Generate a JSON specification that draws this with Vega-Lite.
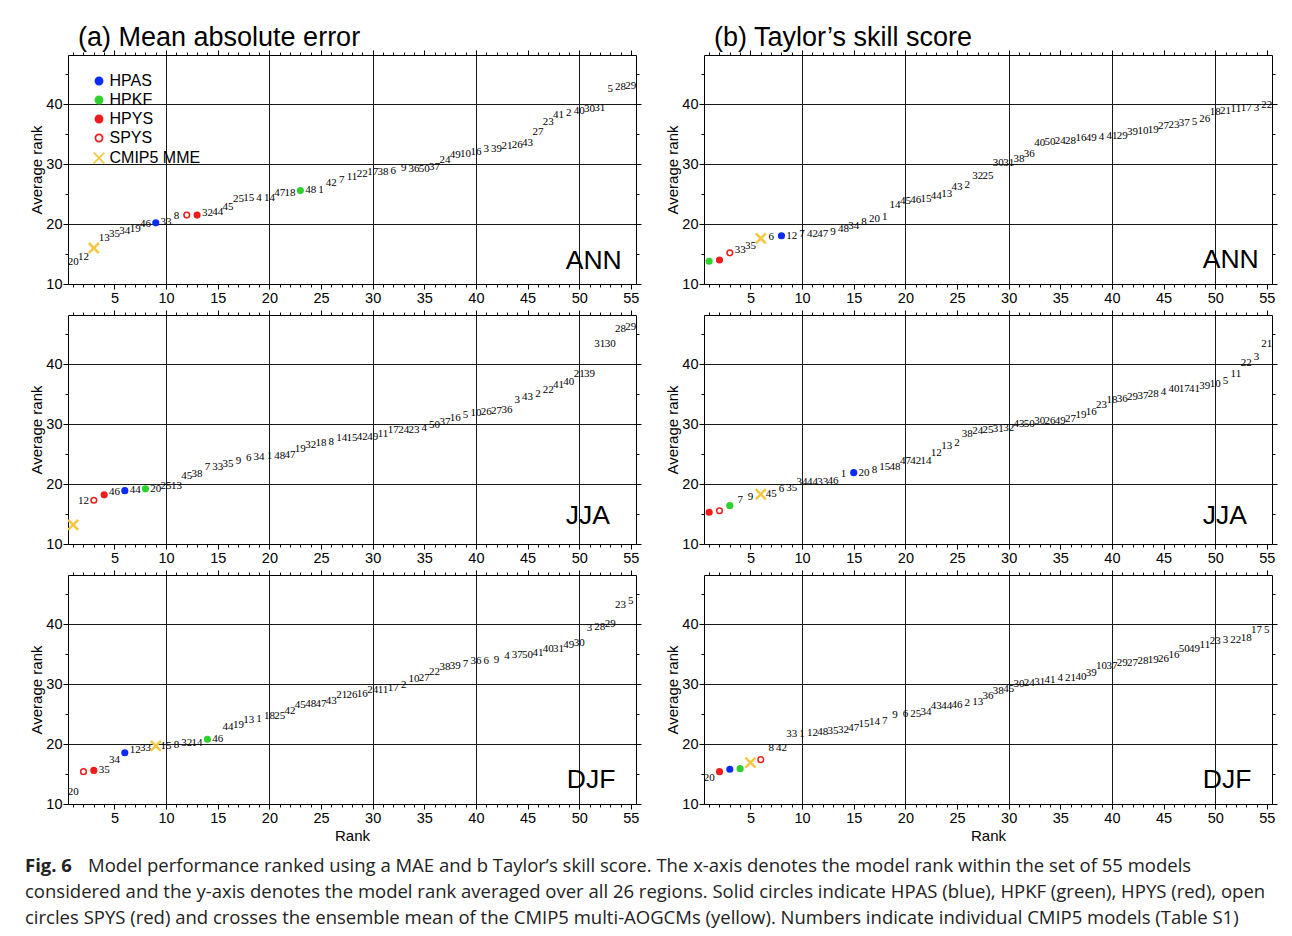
{
"$schema": "https://vega.github.io/schema/vega-lite/v6.json",
"background": "white",
"padding": {"left": 25, "top": 23, "right": 8, "bottom": 6},
"config": {
 "font": "Liberation Sans",
 "view": {"stroke": "black", "strokeWidth": 1},
 "axis": {"domain": false, "labelFont": "Liberation Sans", "labelFontSize": 14.5, "labelColor": "black", "tickColor": "black", "tickWidth": 1, "gridColor": "#1a1a1a", "gridWidth": 1, "titleFont": "Liberation Sans", "titleFontSize": 15, "titleFontWeight": "normal", "titleColor": "black", "labelOverlap": false, "labelFlush": false},
 "title": {"font": "Liberation Sans", "fontSize": 27, "fontWeight": "normal", "color": "black", "anchor": "start", "frame": "group", "baseline": "alphabetic", "dx": 10, "offset": -2}
},
"datasets": {
"aANN": [
{"rank":1,"avg":13.7,"label":"20"},{"rank":2,"avg":14.5,"label":"12"},{"rank":3,"avg":16.0,"group":"CMIP5 MME"},{"rank":4,"avg":17.7,"label":"13"},{"rank":5,"avg":18.3,"label":"35"},{"rank":6,"avg":18.9,"label":"34"},{"rank":7,"avg":19.2,"label":"19"},{"rank":8,"avg":20.0,"label":"46"},{"rank":9,"avg":20.2,"group":"HPAS"},{"rank":10,"avg":20.3,"label":"33"},{"rank":11,"avg":21.3,"label":"8"},{"rank":12,"avg":21.5,"group":"SPYS"},{"rank":13,"avg":21.5,"group":"HPYS"},{"rank":14,"avg":21.8,"label":"32"},{"rank":15,"avg":22.05,"label":"44"},{"rank":16,"avg":22.9,"label":"45"},{"rank":17,"avg":24.2,"label":"25"},{"rank":18,"avg":24.3,"label":"15"},{"rank":19,"avg":24.3,"label":"4"},{"rank":20,"avg":24.4,"label":"14"},{"rank":21,"avg":25.1,"label":"47"},{"rank":22,"avg":25.2,"label":"18"},{"rank":23,"avg":25.6,"group":"HPKF"},{"rank":24,"avg":25.6,"label":"48"},{"rank":25,"avg":25.7,"label":"1"},{"rank":26,"avg":26.9,"label":"42"},{"rank":27,"avg":27.4,"label":"7"},{"rank":28,"avg":27.9,"label":"11"},{"rank":29,"avg":28.3,"label":"22"},{"rank":30,"avg":28.6,"label":"17"},{"rank":31,"avg":28.6,"label":"38"},{"rank":32,"avg":28.8,"label":"6"},{"rank":33,"avg":29.3,"label":"9"},{"rank":34,"avg":29.2,"label":"36"},{"rank":35,"avg":29.2,"label":"50"},{"rank":36,"avg":29.55,"label":"37"},{"rank":37,"avg":30.7,"label":"24"},{"rank":38,"avg":31.5,"label":"49"},{"rank":39,"avg":31.7,"label":"10"},{"rank":40,"avg":32.05,"label":"16"},{"rank":41,"avg":32.6,"label":"3"},{"rank":42,"avg":32.5,"label":"39"},{"rank":43,"avg":33.05,"label":"21"},{"rank":44,"avg":33.2,"label":"26"},{"rank":45,"avg":33.6,"label":"43"},{"rank":46,"avg":35.3,"label":"27"},{"rank":47,"avg":37.1,"label":"23"},{"rank":48,"avg":38.2,"label":"41"},{"rank":49,"avg":38.6,"label":"2"},{"rank":50,"avg":38.9,"label":"40"},{"rank":51,"avg":39.2,"label":"30"},{"rank":52,"avg":39.3,"label":"31"},{"rank":53,"avg":42.6,"label":"5"},{"rank":54,"avg":42.9,"label":"28"},{"rank":55,"avg":43.05,"label":"29"}
],
"aJJA": [
{"rank":1,"avg":13.2,"group":"CMIP5 MME"},{"rank":2,"avg":17.1,"label":"12"},{"rank":3,"avg":17.3,"group":"SPYS"},{"rank":4,"avg":18.2,"group":"HPYS"},{"rank":5,"avg":18.6,"label":"46"},{"rank":6,"avg":18.9,"group":"HPAS"},{"rank":7,"avg":19.05,"label":"44"},{"rank":8,"avg":19.2,"group":"HPKF"},{"rank":9,"avg":19.1,"label":"20"},{"rank":10,"avg":19.6,"label":"25"},{"rank":11,"avg":19.6,"label":"13"},{"rank":12,"avg":21.4,"label":"45"},{"rank":13,"avg":21.7,"label":"38"},{"rank":14,"avg":22.8,"label":"7"},{"rank":15,"avg":22.8,"label":"33"},{"rank":16,"avg":23.4,"label":"35"},{"rank":17,"avg":23.9,"label":"9"},{"rank":18,"avg":24.3,"label":"6"},{"rank":19,"avg":24.55,"label":"34"},{"rank":20,"avg":24.7,"label":"1"},{"rank":21,"avg":24.7,"label":"48"},{"rank":22,"avg":24.8,"label":"47"},{"rank":23,"avg":25.9,"label":"19"},{"rank":24,"avg":26.5,"label":"32"},{"rank":25,"avg":26.9,"label":"18"},{"rank":26,"avg":27.05,"label":"8"},{"rank":27,"avg":27.6,"label":"14"},{"rank":28,"avg":27.6,"label":"15"},{"rank":29,"avg":27.8,"label":"42"},{"rank":30,"avg":27.9,"label":"49"},{"rank":31,"avg":28.3,"label":"11"},{"rank":32,"avg":29.1,"label":"17"},{"rank":33,"avg":29.0,"label":"24"},{"rank":34,"avg":29.1,"label":"23"},{"rank":35,"avg":29.4,"label":"4"},{"rank":36,"avg":29.8,"label":"50"},{"rank":37,"avg":30.4,"label":"37"},{"rank":38,"avg":31.1,"label":"16"},{"rank":39,"avg":31.55,"label":"5"},{"rank":40,"avg":31.8,"label":"10"},{"rank":41,"avg":32.05,"label":"26"},{"rank":42,"avg":32.2,"label":"27"},{"rank":43,"avg":32.4,"label":"36"},{"rank":44,"avg":34.0,"label":"3"},{"rank":45,"avg":34.55,"label":"43"},{"rank":46,"avg":35.1,"label":"2"},{"rank":47,"avg":35.7,"label":"22"},{"rank":48,"avg":36.5,"label":"41"},{"rank":49,"avg":37.1,"label":"40"},{"rank":50,"avg":38.4,"label":"21"},{"rank":51,"avg":38.4,"label":"39"},{"rank":52,"avg":43.3,"label":"31"},{"rank":53,"avg":43.3,"label":"30"},{"rank":54,"avg":45.8,"label":"28"},{"rank":55,"avg":46.2,"label":"29"}
],
"aDJF": [
{"rank":1,"avg":12.05,"label":"20"},{"rank":2,"avg":15.4,"group":"SPYS"},{"rank":3,"avg":15.6,"group":"HPYS"},{"rank":4,"avg":15.7,"label":"35"},{"rank":5,"avg":17.4,"label":"34"},{"rank":6,"avg":18.55,"group":"HPAS"},{"rank":7,"avg":19.0,"label":"12"},{"rank":8,"avg":19.3,"label":"33"},{"rank":9,"avg":19.7,"group":"CMIP5 MME"},{"rank":10,"avg":19.7,"label":"15"},{"rank":11,"avg":19.8,"label":"8"},{"rank":12,"avg":20.1,"label":"32"},{"rank":13,"avg":20.1,"label":"14"},{"rank":14,"avg":20.8,"group":"HPKF"},{"rank":15,"avg":20.8,"label":"46"},{"rank":16,"avg":22.9,"label":"44"},{"rank":17,"avg":23.2,"label":"19"},{"rank":18,"avg":24.0,"label":"13"},{"rank":19,"avg":24.2,"label":"1"},{"rank":20,"avg":24.7,"label":"18"},{"rank":21,"avg":24.6,"label":"25"},{"rank":22,"avg":25.5,"label":"42"},{"rank":23,"avg":26.5,"label":"45"},{"rank":24,"avg":26.7,"label":"48"},{"rank":25,"avg":26.7,"label":"47"},{"rank":26,"avg":27.2,"label":"43"},{"rank":27,"avg":28.2,"label":"21"},{"rank":28,"avg":28.2,"label":"26"},{"rank":29,"avg":28.4,"label":"16"},{"rank":30,"avg":29.0,"label":"24"},{"rank":31,"avg":29.0,"label":"11"},{"rank":32,"avg":29.4,"label":"17"},{"rank":33,"avg":29.8,"label":"2"},{"rank":34,"avg":30.9,"label":"10"},{"rank":35,"avg":31.05,"label":"27"},{"rank":36,"avg":32.05,"label":"22"},{"rank":37,"avg":32.8,"label":"38"},{"rank":38,"avg":33.0,"label":"39"},{"rank":39,"avg":33.3,"label":"7"},{"rank":40,"avg":33.8,"label":"36"},{"rank":41,"avg":33.8,"label":"6"},{"rank":42,"avg":34.0,"label":"9"},{"rank":43,"avg":34.7,"label":"4"},{"rank":44,"avg":34.8,"label":"37"},{"rank":45,"avg":34.9,"label":"50"},{"rank":46,"avg":35.2,"label":"41"},{"rank":47,"avg":35.9,"label":"40"},{"rank":48,"avg":35.9,"label":"31"},{"rank":49,"avg":36.5,"label":"49"},{"rank":50,"avg":36.8,"label":"30"},{"rank":51,"avg":39.4,"label":"3"},{"rank":52,"avg":39.55,"label":"28"},{"rank":53,"avg":40.0,"label":"29"},{"rank":54,"avg":43.2,"label":"23"},{"rank":55,"avg":43.8,"label":"5"}
],
"bANN": [
{"rank":1,"avg":13.8,"group":"HPKF"},{"rank":2,"avg":14.0,"group":"HPYS"},{"rank":3,"avg":15.2,"group":"SPYS"},{"rank":4,"avg":15.7,"label":"33"},{"rank":5,"avg":16.4,"label":"35"},{"rank":6,"avg":17.6,"group":"CMIP5 MME"},{"rank":7,"avg":17.8,"label":"6"},{"rank":8,"avg":18.05,"group":"HPAS"},{"rank":9,"avg":18.05,"label":"12"},{"rank":10,"avg":18.3,"label":"7"},{"rank":11,"avg":18.4,"label":"42"},{"rank":12,"avg":18.4,"label":"47"},{"rank":13,"avg":18.7,"label":"9"},{"rank":14,"avg":19.2,"label":"48"},{"rank":15,"avg":19.6,"label":"34"},{"rank":16,"avg":20.3,"label":"8"},{"rank":17,"avg":20.8,"label":"20"},{"rank":18,"avg":21.2,"label":"1"},{"rank":19,"avg":23.2,"label":"14"},{"rank":20,"avg":23.8,"label":"45"},{"rank":21,"avg":24.05,"label":"46"},{"rank":22,"avg":24.2,"label":"15"},{"rank":23,"avg":24.7,"label":"44"},{"rank":24,"avg":25.0,"label":"13"},{"rank":25,"avg":26.1,"label":"43"},{"rank":26,"avg":26.55,"label":"2"},{"rank":27,"avg":28.05,"label":"32"},{"rank":28,"avg":28.05,"label":"25"},{"rank":29,"avg":30.2,"label":"30"},{"rank":30,"avg":30.2,"label":"31"},{"rank":31,"avg":30.8,"label":"38"},{"rank":32,"avg":31.7,"label":"36"},{"rank":33,"avg":33.6,"label":"40"},{"rank":34,"avg":33.7,"label":"50"},{"rank":35,"avg":33.9,"label":"24"},{"rank":36,"avg":33.9,"label":"28"},{"rank":37,"avg":34.3,"label":"16"},{"rank":38,"avg":34.3,"label":"49"},{"rank":39,"avg":34.6,"label":"4"},{"rank":40,"avg":34.7,"label":"41"},{"rank":41,"avg":34.75,"label":"29"},{"rank":42,"avg":35.4,"label":"39"},{"rank":43,"avg":35.55,"label":"10"},{"rank":44,"avg":35.7,"label":"19"},{"rank":45,"avg":36.4,"label":"27"},{"rank":46,"avg":36.55,"label":"23"},{"rank":47,"avg":36.8,"label":"37"},{"rank":48,"avg":37.1,"label":"5"},{"rank":49,"avg":37.6,"label":"26"},{"rank":50,"avg":38.7,"label":"18"},{"rank":51,"avg":38.9,"label":"21"},{"rank":52,"avg":39.2,"label":"11"},{"rank":53,"avg":39.3,"label":"17"},{"rank":54,"avg":39.35,"label":"3"},{"rank":55,"avg":39.8,"label":"22"}
],
"bJJA": [
{"rank":1,"avg":15.3,"group":"HPYS"},{"rank":2,"avg":15.55,"group":"SPYS"},{"rank":3,"avg":16.4,"group":"HPKF"},{"rank":4,"avg":17.3,"label":"7"},{"rank":5,"avg":17.8,"label":"9"},{"rank":6,"avg":18.3,"group":"CMIP5 MME"},{"rank":7,"avg":18.4,"label":"45"},{"rank":8,"avg":19.2,"label":"6"},{"rank":9,"avg":19.3,"label":"35"},{"rank":10,"avg":20.3,"label":"34"},{"rank":11,"avg":20.4,"label":"44"},{"rank":12,"avg":20.4,"label":"33"},{"rank":13,"avg":20.55,"label":"46"},{"rank":14,"avg":21.7,"label":"1"},{"rank":15,"avg":21.9,"group":"HPAS"},{"rank":16,"avg":21.9,"label":"20"},{"rank":17,"avg":22.3,"label":"8"},{"rank":18,"avg":22.8,"label":"15"},{"rank":19,"avg":22.85,"label":"48"},{"rank":20,"avg":23.8,"label":"47"},{"rank":21,"avg":23.8,"label":"42"},{"rank":22,"avg":23.9,"label":"14"},{"rank":23,"avg":25.2,"label":"12"},{"rank":24,"avg":26.4,"label":"13"},{"rank":25,"avg":26.9,"label":"2"},{"rank":26,"avg":28.4,"label":"38"},{"rank":27,"avg":28.9,"label":"24"},{"rank":28,"avg":29.0,"label":"25"},{"rank":29,"avg":29.2,"label":"31"},{"rank":30,"avg":29.3,"label":"32"},{"rank":31,"avg":30.0,"label":"43"},{"rank":32,"avg":30.1,"label":"50"},{"rank":33,"avg":30.55,"label":"30"},{"rank":34,"avg":30.55,"label":"26"},{"rank":35,"avg":30.55,"label":"49"},{"rank":36,"avg":30.8,"label":"27"},{"rank":37,"avg":31.55,"label":"19"},{"rank":38,"avg":32.05,"label":"16"},{"rank":39,"avg":33.2,"label":"23"},{"rank":40,"avg":34.0,"label":"18"},{"rank":41,"avg":34.2,"label":"36"},{"rank":42,"avg":34.55,"label":"29"},{"rank":43,"avg":34.7,"label":"37"},{"rank":44,"avg":35.1,"label":"28"},{"rank":45,"avg":35.4,"label":"4"},{"rank":46,"avg":35.9,"label":"40"},{"rank":47,"avg":35.9,"label":"17"},{"rank":48,"avg":35.9,"label":"41"},{"rank":49,"avg":36.4,"label":"39"},{"rank":50,"avg":36.7,"label":"10"},{"rank":51,"avg":37.2,"label":"5"},{"rank":52,"avg":38.4,"label":"11"},{"rank":53,"avg":40.2,"label":"22"},{"rank":54,"avg":41.2,"label":"3"},{"rank":55,"avg":43.3,"label":"21"}
],
"bDJF": [
{"rank":1,"avg":14.3,"label":"20"},{"rank":2,"avg":15.4,"group":"HPYS"},{"rank":3,"avg":15.8,"group":"HPAS"},{"rank":4,"avg":15.9,"group":"HPKF"},{"rank":5,"avg":16.9,"group":"CMIP5 MME"},{"rank":6,"avg":17.4,"group":"SPYS"},{"rank":7,"avg":19.4,"label":"8"},{"rank":8,"avg":19.4,"label":"42"},{"rank":9,"avg":21.7,"label":"33"},{"rank":10,"avg":21.7,"label":"1"},{"rank":11,"avg":21.8,"label":"12"},{"rank":12,"avg":22.0,"label":"48"},{"rank":13,"avg":22.2,"label":"35"},{"rank":14,"avg":22.3,"label":"32"},{"rank":15,"avg":22.6,"label":"47"},{"rank":16,"avg":23.4,"label":"15"},{"rank":17,"avg":23.6,"label":"14"},{"rank":18,"avg":23.9,"label":"7"},{"rank":19,"avg":24.8,"label":"9"},{"rank":20,"avg":25.0,"label":"6"},{"rank":21,"avg":25.0,"label":"25"},{"rank":22,"avg":25.3,"label":"34"},{"rank":23,"avg":26.3,"label":"43"},{"rank":24,"avg":26.3,"label":"44"},{"rank":25,"avg":26.55,"label":"46"},{"rank":26,"avg":26.8,"label":"2"},{"rank":27,"avg":27.05,"label":"13"},{"rank":28,"avg":28.05,"label":"36"},{"rank":29,"avg":28.9,"label":"38"},{"rank":30,"avg":29.2,"label":"45"},{"rank":31,"avg":30.1,"label":"30"},{"rank":32,"avg":30.2,"label":"24"},{"rank":33,"avg":30.4,"label":"31"},{"rank":34,"avg":30.7,"label":"41"},{"rank":35,"avg":31.05,"label":"4"},{"rank":36,"avg":31.05,"label":"21"},{"rank":37,"avg":31.2,"label":"40"},{"rank":38,"avg":31.8,"label":"39"},{"rank":39,"avg":33.05,"label":"10"},{"rank":40,"avg":33.05,"label":"37"},{"rank":41,"avg":33.6,"label":"29"},{"rank":42,"avg":33.6,"label":"27"},{"rank":43,"avg":33.8,"label":"28"},{"rank":44,"avg":34.0,"label":"19"},{"rank":45,"avg":34.2,"label":"26"},{"rank":46,"avg":34.8,"label":"16"},{"rank":47,"avg":35.8,"label":"50"},{"rank":48,"avg":35.8,"label":"49"},{"rank":49,"avg":36.5,"label":"11"},{"rank":50,"avg":37.2,"label":"23"},{"rank":51,"avg":37.3,"label":"3"},{"rank":52,"avg":37.3,"label":"22"},{"rank":53,"avg":37.7,"label":"18"},{"rank":54,"avg":39.0,"label":"17"},{"rank":55,"avg":39.1,"label":"5"}
],
"caption": [
{"line":1,"text":"Model performance ranked using a MAE and b Taylor’s skill score. The x-axis denotes the model rank within the set of 55 models"},
{"line":2,"text":"considered and the y-axis denotes the model rank averaged over all 26 regions. Solid circles indicate HPAS (blue), HPKF (green), HPYS (red), open"},
{"line":3,"text":"circles SPYS (red) and crosses the ensemble mean of the CMIP5 multi-AOGCMs (yellow). Numbers indicate individual CMIP5 models (Table S1)"}
]
},
"vconcat": [
{
"columns": 2,
"spacing": {"row": 31, "column": 68},
"bounds": "flush",
"resolve": {"scale": {"fill": "independent", "stroke": "independent", "shape": "independent"}, "legend": {"fill": "independent", "stroke": "independent", "shape": "independent"}},
"concat": [
{
"width": 568, "height": 229,
"title": {"text": "(a) Mean absolute error"},
"data": {"name": "aANN"},
"resolve": {"axis": {"x": "independent", "y": "independent"}},
"layer": [
{"transform": [{"filter": "isValid(datum.label)"}],
 "mark": {"type": "text", "font": "Liberation Sans Narrow", "fontSize": 11, "align": "center", "baseline": "middle", "color": "black"},
 "encoding": {
  "x": {"field": "rank", "type": "quantitative", "scale": {"domain": [0.5, 55.5], "nice": false, "zero": false}, "axis": {"values": [1,2,3,4,5,6,7,8,9,10,11,12,13,14,15,16,17,18,19,20,21,22,23,24,25,26,27,28,29,30,31,32,33,34,35,36,37,38,39,40,41,42,43,44,45,46,47,48,49,50,51,52,53,54,55], "labelExpr": "datum.value % 5 === 0 ? datum.label : ''", "tickSize": {"condition": {"test": "datum.value % 5 === 0", "value": 5}, "value": 3}, "grid": true, "gridOpacity": {"condition": {"test": "datum.value % 10 === 0", "value": 1}, "value": 0}, "labelPadding": 2, "title": null}},
  "y": {"field": "avg", "type": "quantitative", "scale": {"domain": [10, 48.2], "nice": false, "zero": false}, "axis": {"values": [10,15,20,25,30,35,40,45], "labelExpr": "datum.value % 10 === 0 ? datum.label : ''", "tickSize": {"condition": {"test": "datum.value % 10 === 0", "value": 5}, "value": 3}, "grid": true, "gridOpacity": {"condition": {"test": "datum.value % 10 === 0 && datum.value > 10", "value": 1}, "value": 0}, "labelPadding": 1, "title": "Average rank", "titlePadding": 1}},
  "text": {"field": "label"}
 }},
{"transform": [{"filter": "isValid(datum.group) && datum.group !== 'CMIP5 MME'"}],
 "mark": {"type": "point", "size": 32, "strokeWidth": 1.5, "opacity": 1},
 "encoding": {
  "x": {"field": "rank", "type": "quantitative", "axis": null},
  "y": {"field": "avg", "type": "quantitative", "axis": null},
  "fill": {"field": "group", "type": "nominal", "scale": {"domain": ["HPAS","HPKF","HPYS","SPYS","CMIP5 MME"], "range": ["#0b2cf5","#2fd12f","#ee1c1c","#ffffff","transparent"]}, "legend": {"orient": "none", "legendX": 23, "legendY": 18, "title": null, "labelFontSize": 16, "labelFont": "Liberation Sans", "labelColor": "black", "symbolSize": 50, "symbolStrokeWidth": 1.8, "rowPadding": 3, "labelOffset": 2.5, "padding": 0}},
  "stroke": {"field": "group", "type": "nominal", "scale": {"domain": ["HPAS","HPKF","HPYS","SPYS","CMIP5 MME"], "range": ["#0b2cf5","#2fd12f","#ee1c1c","#ee1c1c","#f5c842"]}, "legend": {"orient": "none", "legendX": 23, "legendY": 18, "title": null, "labelFontSize": 16, "labelFont": "Liberation Sans", "labelColor": "black", "symbolSize": 50, "symbolStrokeWidth": 1.8, "rowPadding": 3, "labelOffset": 2.5, "padding": 0}},
  "shape": {"field": "group", "type": "nominal", "scale": {"domain": ["HPAS","HPKF","HPYS","SPYS","CMIP5 MME"], "range": ["circle","circle","circle","circle","M-1.5,-1.5L1.5,1.5M-1.5,1.5L1.5,-1.5"]}, "legend": {"orient": "none", "legendX": 23, "legendY": 18, "title": null, "labelFontSize": 16, "labelFont": "Liberation Sans", "labelColor": "black", "symbolSize": 50, "symbolStrokeWidth": 1.8, "rowPadding": 3, "labelOffset": 2.5, "padding": 0}}
 }},
{"transform": [{"filter": "datum.group === 'CMIP5 MME'"}],
 "mark": {"type": "point", "size": 45, "strokeWidth": 2.5, "opacity": 1},
 "encoding": {
  "x": {"field": "rank", "type": "quantitative", "axis": null},
  "y": {"field": "avg", "type": "quantitative", "axis": null},
  "fill": {"field": "group", "type": "nominal"},
  "stroke": {"field": "group", "type": "nominal"},
  "shape": {"field": "group", "type": "nominal"}
 }},
{"data": {"values": [{}]},
 "mark": {"type": "text", "font": "Liberation Sans", "fontSize": 26.5, "align": "left", "baseline": "alphabetic", "color": "black"},
 "encoding": {
  "x": {"datum": 48.7, "type": "quantitative", "axis": {"orient": "top", "values": [1,2,3,4,5,6,7,8,9,10,11,12,13,14,15,16,17,18,19,20,21,22,23,24,25,26,27,28,29,30,31,32,33,34,35,36,37,38,39,40,41,42,43,44,45,46,47,48,49,50,51,52,53,54,55], "labels": false, "tickSize": {"condition": {"test": "datum.value % 5 === 0", "value": 5}, "value": 3}, "grid": false, "title": null}},
  "y": {"datum": 12.5, "type": "quantitative", "axis": {"orient": "right", "values": [10,15,20,25,30,35,40,45], "labels": false, "tickSize": {"condition": {"test": "datum.value % 10 === 0", "value": 5}, "value": 3}, "grid": false, "title": null}},
  "text": {"value": "ANN"}
 }}
]
},
{
"width": 568, "height": 229,
"title": {"text": "(b) Taylor’s skill score"},
"data": {"name": "bANN"},
"resolve": {"axis": {"x": "independent", "y": "independent"}},
"layer": [
{"transform": [{"filter": "isValid(datum.label)"}],
 "mark": {"type": "text", "font": "Liberation Sans Narrow", "fontSize": 11, "align": "center", "baseline": "middle", "color": "black"},
 "encoding": {
  "x": {"field": "rank", "type": "quantitative", "scale": {"domain": [0.5, 55.5], "nice": false, "zero": false}, "axis": {"values": [1,2,3,4,5,6,7,8,9,10,11,12,13,14,15,16,17,18,19,20,21,22,23,24,25,26,27,28,29,30,31,32,33,34,35,36,37,38,39,40,41,42,43,44,45,46,47,48,49,50,51,52,53,54,55], "labelExpr": "datum.value % 5 === 0 ? datum.label : ''", "tickSize": {"condition": {"test": "datum.value % 5 === 0", "value": 5}, "value": 3}, "grid": true, "gridOpacity": {"condition": {"test": "datum.value % 10 === 0", "value": 1}, "value": 0}, "labelPadding": 2, "title": null}},
  "y": {"field": "avg", "type": "quantitative", "scale": {"domain": [10, 48.2], "nice": false, "zero": false}, "axis": {"values": [10,15,20,25,30,35,40,45], "labelExpr": "datum.value % 10 === 0 ? datum.label : ''", "tickSize": {"condition": {"test": "datum.value % 10 === 0", "value": 5}, "value": 3}, "grid": true, "gridOpacity": {"condition": {"test": "datum.value % 10 === 0 && datum.value > 10", "value": 1}, "value": 0}, "labelPadding": 1, "title": "Average rank", "titlePadding": 1}},
  "text": {"field": "label"}
 }},
{"transform": [{"filter": "isValid(datum.group) && datum.group !== 'CMIP5 MME'"}],
 "mark": {"type": "point", "size": 32, "strokeWidth": 1.5, "opacity": 1},
 "encoding": {
  "x": {"field": "rank", "type": "quantitative", "axis": null},
  "y": {"field": "avg", "type": "quantitative", "axis": null},
  "fill": {"field": "group", "type": "nominal", "scale": {"domain": ["HPAS","HPKF","HPYS","SPYS","CMIP5 MME"], "range": ["#0b2cf5","#2fd12f","#ee1c1c","#ffffff","transparent"]}, "legend": null},
  "stroke": {"field": "group", "type": "nominal", "scale": {"domain": ["HPAS","HPKF","HPYS","SPYS","CMIP5 MME"], "range": ["#0b2cf5","#2fd12f","#ee1c1c","#ee1c1c","#f5c842"]}, "legend": null},
  "shape": {"field": "group", "type": "nominal", "scale": {"domain": ["HPAS","HPKF","HPYS","SPYS","CMIP5 MME"], "range": ["circle","circle","circle","circle","M-1.5,-1.5L1.5,1.5M-1.5,1.5L1.5,-1.5"]}, "legend": null}
 }},
{"transform": [{"filter": "datum.group === 'CMIP5 MME'"}],
 "mark": {"type": "point", "size": 45, "strokeWidth": 2.5, "opacity": 1},
 "encoding": {
  "x": {"field": "rank", "type": "quantitative", "axis": null},
  "y": {"field": "avg", "type": "quantitative", "axis": null},
  "fill": {"field": "group", "type": "nominal", "legend": null},
  "stroke": {"field": "group", "type": "nominal", "legend": null},
  "shape": {"field": "group", "type": "nominal", "legend": null}
 }},
{"data": {"values": [{}]},
 "mark": {"type": "text", "font": "Liberation Sans", "fontSize": 26.5, "align": "left", "baseline": "alphabetic", "color": "black"},
 "encoding": {
  "x": {"datum": 48.8, "type": "quantitative", "axis": {"orient": "top", "values": [1,2,3,4,5,6,7,8,9,10,11,12,13,14,15,16,17,18,19,20,21,22,23,24,25,26,27,28,29,30,31,32,33,34,35,36,37,38,39,40,41,42,43,44,45,46,47,48,49,50,51,52,53,54,55], "labels": false, "tickSize": {"condition": {"test": "datum.value % 5 === 0", "value": 5}, "value": 3}, "grid": false, "title": null}},
  "y": {"datum": 12.6, "type": "quantitative", "axis": {"orient": "right", "values": [10,15,20,25,30,35,40,45], "labels": false, "tickSize": {"condition": {"test": "datum.value % 10 === 0", "value": 5}, "value": 3}, "grid": false, "title": null}},
  "text": {"value": "ANN"}
 }}
]
},
{
"width": 568, "height": 229,
"data": {"name": "aJJA"},
"resolve": {"axis": {"x": "independent", "y": "independent"}},
"layer": [
{"transform": [{"filter": "isValid(datum.label)"}],
 "mark": {"type": "text", "font": "Liberation Sans Narrow", "fontSize": 11, "align": "center", "baseline": "middle", "color": "black"},
 "encoding": {
  "x": {"field": "rank", "type": "quantitative", "scale": {"domain": [0.5, 55.5], "nice": false, "zero": false}, "axis": {"values": [1,2,3,4,5,6,7,8,9,10,11,12,13,14,15,16,17,18,19,20,21,22,23,24,25,26,27,28,29,30,31,32,33,34,35,36,37,38,39,40,41,42,43,44,45,46,47,48,49,50,51,52,53,54,55], "labelExpr": "datum.value % 5 === 0 ? datum.label : ''", "tickSize": {"condition": {"test": "datum.value % 5 === 0", "value": 5}, "value": 3}, "grid": true, "gridOpacity": {"condition": {"test": "datum.value % 10 === 0", "value": 1}, "value": 0}, "labelPadding": 2, "title": null}},
  "y": {"field": "avg", "type": "quantitative", "scale": {"domain": [10, 48.2], "nice": false, "zero": false}, "axis": {"values": [10,15,20,25,30,35,40,45], "labelExpr": "datum.value % 10 === 0 ? datum.label : ''", "tickSize": {"condition": {"test": "datum.value % 10 === 0", "value": 5}, "value": 3}, "grid": true, "gridOpacity": {"condition": {"test": "datum.value % 10 === 0 && datum.value > 10", "value": 1}, "value": 0}, "labelPadding": 1, "title": "Average rank", "titlePadding": 1}},
  "text": {"field": "label"}
 }},
{"transform": [{"filter": "isValid(datum.group) && datum.group !== 'CMIP5 MME'"}],
 "mark": {"type": "point", "size": 32, "strokeWidth": 1.5, "opacity": 1},
 "encoding": {
  "x": {"field": "rank", "type": "quantitative", "axis": null},
  "y": {"field": "avg", "type": "quantitative", "axis": null},
  "fill": {"field": "group", "type": "nominal", "scale": {"domain": ["HPAS","HPKF","HPYS","SPYS","CMIP5 MME"], "range": ["#0b2cf5","#2fd12f","#ee1c1c","#ffffff","transparent"]}, "legend": null},
  "stroke": {"field": "group", "type": "nominal", "scale": {"domain": ["HPAS","HPKF","HPYS","SPYS","CMIP5 MME"], "range": ["#0b2cf5","#2fd12f","#ee1c1c","#ee1c1c","#f5c842"]}, "legend": null},
  "shape": {"field": "group", "type": "nominal", "scale": {"domain": ["HPAS","HPKF","HPYS","SPYS","CMIP5 MME"], "range": ["circle","circle","circle","circle","M-1.5,-1.5L1.5,1.5M-1.5,1.5L1.5,-1.5"]}, "legend": null}
 }},
{"transform": [{"filter": "datum.group === 'CMIP5 MME'"}],
 "mark": {"type": "point", "size": 45, "strokeWidth": 2.5, "opacity": 1},
 "encoding": {
  "x": {"field": "rank", "type": "quantitative", "axis": null},
  "y": {"field": "avg", "type": "quantitative", "axis": null},
  "fill": {"field": "group", "type": "nominal", "legend": null},
  "stroke": {"field": "group", "type": "nominal", "legend": null},
  "shape": {"field": "group", "type": "nominal", "legend": null}
 }},
{"data": {"values": [{}]},
 "mark": {"type": "text", "font": "Liberation Sans", "fontSize": 26.5, "align": "left", "baseline": "alphabetic", "color": "black"},
 "encoding": {
  "x": {"datum": 48.7, "type": "quantitative", "axis": {"orient": "top", "values": [1,2,3,4,5,6,7,8,9,10,11,12,13,14,15,16,17,18,19,20,21,22,23,24,25,26,27,28,29,30,31,32,33,34,35,36,37,38,39,40,41,42,43,44,45,46,47,48,49,50,51,52,53,54,55], "labels": false, "tickSize": {"condition": {"test": "datum.value % 5 === 0", "value": 5}, "value": 3}, "grid": false, "title": null}},
  "y": {"datum": 13.3, "type": "quantitative", "axis": {"orient": "right", "values": [10,15,20,25,30,35,40,45], "labels": false, "tickSize": {"condition": {"test": "datum.value % 10 === 0", "value": 5}, "value": 3}, "grid": false, "title": null}},
  "text": {"value": "JJA"}
 }}
]
},
{
"width": 568, "height": 229,
"data": {"name": "bJJA"},
"resolve": {"axis": {"x": "independent", "y": "independent"}},
"layer": [
{"transform": [{"filter": "isValid(datum.label)"}],
 "mark": {"type": "text", "font": "Liberation Sans Narrow", "fontSize": 11, "align": "center", "baseline": "middle", "color": "black"},
 "encoding": {
  "x": {"field": "rank", "type": "quantitative", "scale": {"domain": [0.5, 55.5], "nice": false, "zero": false}, "axis": {"values": [1,2,3,4,5,6,7,8,9,10,11,12,13,14,15,16,17,18,19,20,21,22,23,24,25,26,27,28,29,30,31,32,33,34,35,36,37,38,39,40,41,42,43,44,45,46,47,48,49,50,51,52,53,54,55], "labelExpr": "datum.value % 5 === 0 ? datum.label : ''", "tickSize": {"condition": {"test": "datum.value % 5 === 0", "value": 5}, "value": 3}, "grid": true, "gridOpacity": {"condition": {"test": "datum.value % 10 === 0", "value": 1}, "value": 0}, "labelPadding": 2, "title": null}},
  "y": {"field": "avg", "type": "quantitative", "scale": {"domain": [10, 48.2], "nice": false, "zero": false}, "axis": {"values": [10,15,20,25,30,35,40,45], "labelExpr": "datum.value % 10 === 0 ? datum.label : ''", "tickSize": {"condition": {"test": "datum.value % 10 === 0", "value": 5}, "value": 3}, "grid": true, "gridOpacity": {"condition": {"test": "datum.value % 10 === 0 && datum.value > 10", "value": 1}, "value": 0}, "labelPadding": 1, "title": "Average rank", "titlePadding": 1}},
  "text": {"field": "label"}
 }},
{"transform": [{"filter": "isValid(datum.group) && datum.group !== 'CMIP5 MME'"}],
 "mark": {"type": "point", "size": 32, "strokeWidth": 1.5, "opacity": 1},
 "encoding": {
  "x": {"field": "rank", "type": "quantitative", "axis": null},
  "y": {"field": "avg", "type": "quantitative", "axis": null},
  "fill": {"field": "group", "type": "nominal", "scale": {"domain": ["HPAS","HPKF","HPYS","SPYS","CMIP5 MME"], "range": ["#0b2cf5","#2fd12f","#ee1c1c","#ffffff","transparent"]}, "legend": null},
  "stroke": {"field": "group", "type": "nominal", "scale": {"domain": ["HPAS","HPKF","HPYS","SPYS","CMIP5 MME"], "range": ["#0b2cf5","#2fd12f","#ee1c1c","#ee1c1c","#f5c842"]}, "legend": null},
  "shape": {"field": "group", "type": "nominal", "scale": {"domain": ["HPAS","HPKF","HPYS","SPYS","CMIP5 MME"], "range": ["circle","circle","circle","circle","M-1.5,-1.5L1.5,1.5M-1.5,1.5L1.5,-1.5"]}, "legend": null}
 }},
{"transform": [{"filter": "datum.group === 'CMIP5 MME'"}],
 "mark": {"type": "point", "size": 45, "strokeWidth": 2.5, "opacity": 1},
 "encoding": {
  "x": {"field": "rank", "type": "quantitative", "axis": null},
  "y": {"field": "avg", "type": "quantitative", "axis": null},
  "fill": {"field": "group", "type": "nominal", "legend": null},
  "stroke": {"field": "group", "type": "nominal", "legend": null},
  "shape": {"field": "group", "type": "nominal", "legend": null}
 }},
{"data": {"values": [{}]},
 "mark": {"type": "text", "font": "Liberation Sans", "fontSize": 26.5, "align": "left", "baseline": "alphabetic", "color": "black"},
 "encoding": {
  "x": {"datum": 48.8, "type": "quantitative", "axis": {"orient": "top", "values": [1,2,3,4,5,6,7,8,9,10,11,12,13,14,15,16,17,18,19,20,21,22,23,24,25,26,27,28,29,30,31,32,33,34,35,36,37,38,39,40,41,42,43,44,45,46,47,48,49,50,51,52,53,54,55], "labels": false, "tickSize": {"condition": {"test": "datum.value % 5 === 0", "value": 5}, "value": 3}, "grid": false, "title": null}},
  "y": {"datum": 13.3, "type": "quantitative", "axis": {"orient": "right", "values": [10,15,20,25,30,35,40,45], "labels": false, "tickSize": {"condition": {"test": "datum.value % 10 === 0", "value": 5}, "value": 3}, "grid": false, "title": null}},
  "text": {"value": "JJA"}
 }}
]
},
{
"width": 568, "height": 229,
"data": {"name": "aDJF"},
"resolve": {"axis": {"x": "independent", "y": "independent"}},
"layer": [
{"transform": [{"filter": "isValid(datum.label)"}],
 "mark": {"type": "text", "font": "Liberation Sans Narrow", "fontSize": 11, "align": "center", "baseline": "middle", "color": "black"},
 "encoding": {
  "x": {"field": "rank", "type": "quantitative", "scale": {"domain": [0.5, 55.5], "nice": false, "zero": false}, "axis": {"values": [1,2,3,4,5,6,7,8,9,10,11,12,13,14,15,16,17,18,19,20,21,22,23,24,25,26,27,28,29,30,31,32,33,34,35,36,37,38,39,40,41,42,43,44,45,46,47,48,49,50,51,52,53,54,55], "labelExpr": "datum.value % 5 === 0 ? datum.label : ''", "tickSize": {"condition": {"test": "datum.value % 5 === 0", "value": 5}, "value": 3}, "grid": true, "gridOpacity": {"condition": {"test": "datum.value % 10 === 0", "value": 1}, "value": 0}, "labelPadding": 2, "title": "Rank", "titlePadding": 4}},
  "y": {"field": "avg", "type": "quantitative", "scale": {"domain": [10, 48.2], "nice": false, "zero": false}, "axis": {"values": [10,15,20,25,30,35,40,45], "labelExpr": "datum.value % 10 === 0 ? datum.label : ''", "tickSize": {"condition": {"test": "datum.value % 10 === 0", "value": 5}, "value": 3}, "grid": true, "gridOpacity": {"condition": {"test": "datum.value % 10 === 0 && datum.value > 10", "value": 1}, "value": 0}, "labelPadding": 1, "title": "Average rank", "titlePadding": 1}},
  "text": {"field": "label"}
 }},
{"transform": [{"filter": "isValid(datum.group) && datum.group !== 'CMIP5 MME'"}],
 "mark": {"type": "point", "size": 32, "strokeWidth": 1.5, "opacity": 1},
 "encoding": {
  "x": {"field": "rank", "type": "quantitative", "axis": null},
  "y": {"field": "avg", "type": "quantitative", "axis": null},
  "fill": {"field": "group", "type": "nominal", "scale": {"domain": ["HPAS","HPKF","HPYS","SPYS","CMIP5 MME"], "range": ["#0b2cf5","#2fd12f","#ee1c1c","#ffffff","transparent"]}, "legend": null},
  "stroke": {"field": "group", "type": "nominal", "scale": {"domain": ["HPAS","HPKF","HPYS","SPYS","CMIP5 MME"], "range": ["#0b2cf5","#2fd12f","#ee1c1c","#ee1c1c","#f5c842"]}, "legend": null},
  "shape": {"field": "group", "type": "nominal", "scale": {"domain": ["HPAS","HPKF","HPYS","SPYS","CMIP5 MME"], "range": ["circle","circle","circle","circle","M-1.5,-1.5L1.5,1.5M-1.5,1.5L1.5,-1.5"]}, "legend": null}
 }},
{"transform": [{"filter": "datum.group === 'CMIP5 MME'"}],
 "mark": {"type": "point", "size": 45, "strokeWidth": 2.5, "opacity": 1},
 "encoding": {
  "x": {"field": "rank", "type": "quantitative", "axis": null},
  "y": {"field": "avg", "type": "quantitative", "axis": null},
  "fill": {"field": "group", "type": "nominal", "legend": null},
  "stroke": {"field": "group", "type": "nominal", "legend": null},
  "shape": {"field": "group", "type": "nominal", "legend": null}
 }},
{"data": {"values": [{}]},
 "mark": {"type": "text", "font": "Liberation Sans", "fontSize": 26.5, "align": "left", "baseline": "alphabetic", "color": "black"},
 "encoding": {
  "x": {"datum": 48.8, "type": "quantitative", "axis": {"orient": "top", "values": [1,2,3,4,5,6,7,8,9,10,11,12,13,14,15,16,17,18,19,20,21,22,23,24,25,26,27,28,29,30,31,32,33,34,35,36,37,38,39,40,41,42,43,44,45,46,47,48,49,50,51,52,53,54,55], "labels": false, "tickSize": {"condition": {"test": "datum.value % 5 === 0", "value": 5}, "value": 3}, "grid": false, "title": null}},
  "y": {"datum": 12.6, "type": "quantitative", "axis": {"orient": "right", "values": [10,15,20,25,30,35,40,45], "labels": false, "tickSize": {"condition": {"test": "datum.value % 10 === 0", "value": 5}, "value": 3}, "grid": false, "title": null}},
  "text": {"value": "DJF"}
 }}
]
},
{
"width": 568, "height": 229,
"data": {"name": "bDJF"},
"resolve": {"axis": {"x": "independent", "y": "independent"}},
"layer": [
{"transform": [{"filter": "isValid(datum.label)"}],
 "mark": {"type": "text", "font": "Liberation Sans Narrow", "fontSize": 11, "align": "center", "baseline": "middle", "color": "black"},
 "encoding": {
  "x": {"field": "rank", "type": "quantitative", "scale": {"domain": [0.5, 55.5], "nice": false, "zero": false}, "axis": {"values": [1,2,3,4,5,6,7,8,9,10,11,12,13,14,15,16,17,18,19,20,21,22,23,24,25,26,27,28,29,30,31,32,33,34,35,36,37,38,39,40,41,42,43,44,45,46,47,48,49,50,51,52,53,54,55], "labelExpr": "datum.value % 5 === 0 ? datum.label : ''", "tickSize": {"condition": {"test": "datum.value % 5 === 0", "value": 5}, "value": 3}, "grid": true, "gridOpacity": {"condition": {"test": "datum.value % 10 === 0", "value": 1}, "value": 0}, "labelPadding": 2, "title": "Rank", "titlePadding": 4}},
  "y": {"field": "avg", "type": "quantitative", "scale": {"domain": [10, 48.2], "nice": false, "zero": false}, "axis": {"values": [10,15,20,25,30,35,40,45], "labelExpr": "datum.value % 10 === 0 ? datum.label : ''", "tickSize": {"condition": {"test": "datum.value % 10 === 0", "value": 5}, "value": 3}, "grid": true, "gridOpacity": {"condition": {"test": "datum.value % 10 === 0 && datum.value > 10", "value": 1}, "value": 0}, "labelPadding": 1, "title": "Average rank", "titlePadding": 1}},
  "text": {"field": "label"}
 }},
{"transform": [{"filter": "isValid(datum.group) && datum.group !== 'CMIP5 MME'"}],
 "mark": {"type": "point", "size": 32, "strokeWidth": 1.5, "opacity": 1},
 "encoding": {
  "x": {"field": "rank", "type": "quantitative", "axis": null},
  "y": {"field": "avg", "type": "quantitative", "axis": null},
  "fill": {"field": "group", "type": "nominal", "scale": {"domain": ["HPAS","HPKF","HPYS","SPYS","CMIP5 MME"], "range": ["#0b2cf5","#2fd12f","#ee1c1c","#ffffff","transparent"]}, "legend": null},
  "stroke": {"field": "group", "type": "nominal", "scale": {"domain": ["HPAS","HPKF","HPYS","SPYS","CMIP5 MME"], "range": ["#0b2cf5","#2fd12f","#ee1c1c","#ee1c1c","#f5c842"]}, "legend": null},
  "shape": {"field": "group", "type": "nominal", "scale": {"domain": ["HPAS","HPKF","HPYS","SPYS","CMIP5 MME"], "range": ["circle","circle","circle","circle","M-1.5,-1.5L1.5,1.5M-1.5,1.5L1.5,-1.5"]}, "legend": null}
 }},
{"transform": [{"filter": "datum.group === 'CMIP5 MME'"}],
 "mark": {"type": "point", "size": 45, "strokeWidth": 2.5, "opacity": 1},
 "encoding": {
  "x": {"field": "rank", "type": "quantitative", "axis": null},
  "y": {"field": "avg", "type": "quantitative", "axis": null},
  "fill": {"field": "group", "type": "nominal", "legend": null},
  "stroke": {"field": "group", "type": "nominal", "legend": null},
  "shape": {"field": "group", "type": "nominal", "legend": null}
 }},
{"data": {"values": [{}]},
 "mark": {"type": "text", "font": "Liberation Sans", "fontSize": 26.5, "align": "left", "baseline": "alphabetic", "color": "black"},
 "encoding": {
  "x": {"datum": 48.8, "type": "quantitative", "axis": {"orient": "top", "values": [1,2,3,4,5,6,7,8,9,10,11,12,13,14,15,16,17,18,19,20,21,22,23,24,25,26,27,28,29,30,31,32,33,34,35,36,37,38,39,40,41,42,43,44,45,46,47,48,49,50,51,52,53,54,55], "labels": false, "tickSize": {"condition": {"test": "datum.value % 5 === 0", "value": 5}, "value": 3}, "grid": false, "title": null}},
  "y": {"datum": 12.6, "type": "quantitative", "axis": {"orient": "right", "values": [10,15,20,25,30,35,40,45], "labels": false, "tickSize": {"condition": {"test": "datum.value % 10 === 0", "value": 5}, "value": 3}, "grid": false, "title": null}},
  "text": {"value": "DJF"}
 }}
]
}
]
},
{
"width": 1203, "height": 78,
"view": {"stroke": null},
"data": {"name": "caption"},
"layer": [
{"data": {"values": [{}]},
 "mark": {"type": "text", "font": "Open Sans", "fontSize": 18.5, "fontWeight": "bold", "align": "left", "baseline": "middle", "dx": -43, "color": "#222222"},
 "encoding": {
  "x": {"datum": 0, "type": "quantitative", "scale": {"domain": [0, 1]}, "axis": null},
  "y": {"datum": 1, "type": "ordinal", "scale": {"domain": [1, 2, 3]}, "axis": null},
  "text": {"value": "Fig. 6"}
 }},
{"transform": [{"filter": "datum.line === 1"}],
 "mark": {"type": "text", "font": "Open Sans", "fontSize": 18.5, "align": "left", "baseline": "middle", "dx": 20, "color": "#222222"},
 "encoding": {
  "x": {"datum": 0, "type": "quantitative", "axis": null},
  "y": {"field": "line", "type": "ordinal", "axis": null},
  "text": {"field": "text"}
 }},
{"transform": [{"filter": "datum.line > 1"}],
 "mark": {"type": "text", "font": "Open Sans", "fontSize": 18.5, "align": "left", "baseline": "middle", "dx": -43, "color": "#222222"},
 "encoding": {
  "x": {"datum": 0, "type": "quantitative", "axis": null},
  "y": {"field": "line", "type": "ordinal", "axis": null},
  "text": {"field": "text"}
 }}
]
}
],
"spacing": 9
}
